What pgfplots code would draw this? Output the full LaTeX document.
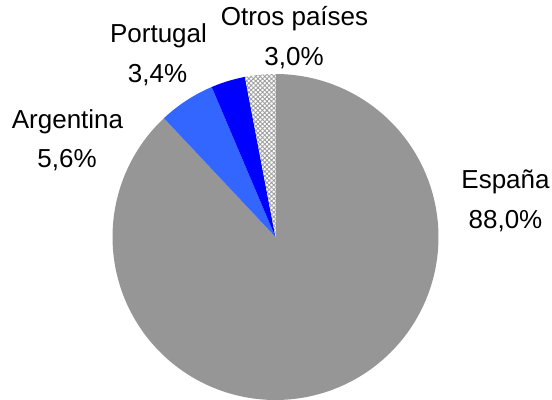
\documentclass[border=0pt]{standalone}
\usepackage{fontspec}
\setmainfont{Liberation Sans}
\usepackage{pgfplots}
\usepackage{pgfplotstable}
\pgfplotsset{compat=1.18}
\usetikzlibrary{patterns.meta}
\definecolor{cEsp}{HTML}{969696}
\definecolor{cArg}{HTML}{3366FF}
\definecolor{cPor}{HTML}{0000FF}
\pgfplotstableread{
name value
Espana 88.0
Argentina 5.6
Portugal 3.4
Otros 3.0
}\piedata
\tikzset{lbl/.style={font=\fontsize{26bp}{30bp}\selectfont, anchor=base, inner sep=0pt}}
\begin{document}
\begin{tikzpicture}
\pgfplotstablegetelem{0}{value}\of\piedata \let\vA\pgfplotsretval
\pgfplotstablegetelem{1}{value}\of\piedata \let\vB\pgfplotsretval
\pgfplotstablegetelem{2}{value}\of\piedata \let\vC\pgfplotsretval
\pgfplotstablegetelem{3}{value}\of\piedata \let\vD\pgfplotsretval
\pgfmathsetmacro{\aO}{90}
\pgfmathsetmacro{\aA}{\aO-3.6*\vA}
\pgfmathsetmacro{\aB}{\aA-3.6*\vB}
\pgfmathsetmacro{\aC}{\aB-3.6*\vC}
\pgfmathsetmacro{\aD}{\aC-3.6*\vD}
\begin{axis}[
  scale only axis, width=552bp, height=400bp,
  xmin=0, xmax=552, ymin=0, ymax=400,
  hide axis, clip=false,
]
\path (rel axis cs:0,0) rectangle (rel axis cs:1,1);
\addplot[fill=cEsp, draw=none, domain=\aA:\aO, samples=200, variable=\t]
  ({275.5+163*cos(\t)}, {163+163*sin(\t)}) -- (275.5,163) -- cycle;
\addplot[fill=cArg, draw=none, domain=\aB:\aA, samples=30, variable=\t]
  ({275.5+163*cos(\t)}, {163+163*sin(\t)}) -- (275.5,163) -- cycle;
\addplot[fill=cPor, draw=none, domain=\aC:\aB, samples=30, variable=\t]
  ({275.5+163*cos(\t)}, {163+163*sin(\t)}) -- (275.5,163) -- cycle;
\addplot[fill=white, draw=none, domain=\aD:\aC, samples=30, variable=\t]
  ({275.5+163*cos(\t)}, {163+163*sin(\t)}) -- (275.5,163) -- cycle;
\addplot[pattern={Hatch[angle=45,distance=3.2bp,line width=0.9bp]}, pattern color=gray!75, draw=none, domain=\aD:\aC, samples=30, variable=\t]
  ({275.5+163*cos(\t)}, {163+163*sin(\t)}) -- (275.5,163) -- cycle;
\node[lbl] at (505.5,211.7) {España};
\node[lbl] at (505.5,172) {88,0\%};
\node[lbl] at (67.5,272) {Argentina};
\node[lbl] at (67,233) {5,6\%};
\node[lbl] at (158.5,357.3) {Portugal};
\node[lbl] at (157.5,318) {3,4\%};
\node[lbl] at (294.5,375) {Otros países};
\node[lbl] at (294,335) {3,0\%};
\end{axis}
\end{tikzpicture}
\end{document}
